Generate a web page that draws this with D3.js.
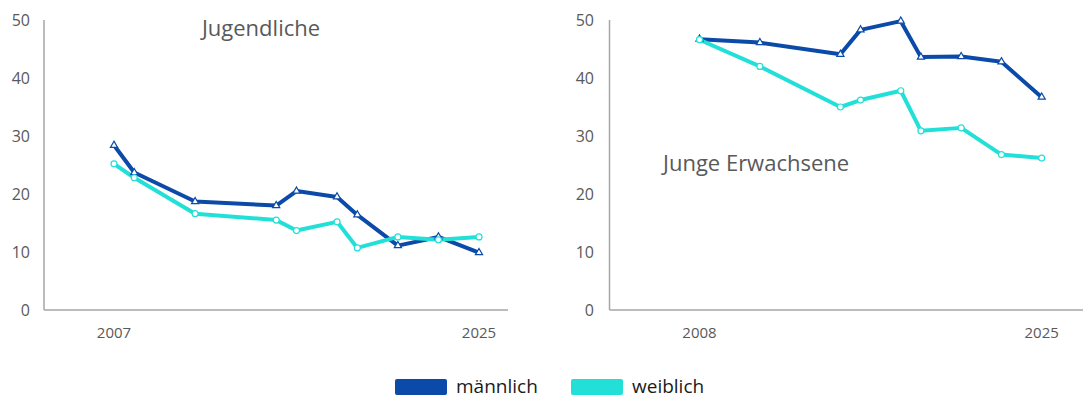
<!DOCTYPE html>
<html>
<head>
<meta charset="utf-8">
<script src="https://cdn.jsdelivr.net/npm/d3@7/dist/d3.min.js"></script>
<style>
  body { margin: 0; background: #fff; }
  svg text { font-family: "Open Sans", "Noto Sans", sans-serif; }
</style>
</head>
<body>
<div id="chart"></div>
<script>
"use strict"

// Jugendliche (left panel)
let yearsYouth = [2007, 2008, 2011, 2015, 2016, 2018, 2019, 2021, 2023, 2025];
let maleYouth = [28.4, 23.7, 18.7, 18.0, 20.5, 19.5, 16.4, 11.1, 12.6, 9.9];
let femaleYouth = [25.2, 22.8, 16.6, 15.5, 13.7, 15.2, 10.7, 12.6, 12.1, 12.6];

// Junge Erwachsene (right panel)
let yearsAdult = [2008, 2011, 2015, 2016, 2018, 2019, 2021, 2023, 2025];
let maleAdult = [46.7, 46.1, 44.1, 48.3, 49.8, 43.6, 43.7, 42.8, 36.7];
let femaleAdult = [46.6, 42.0, 35.0, 36.2, 37.8, 30.9, 31.4, 26.8, 26.2];

let yTicks = [0, 10, 20, 30, 40, 50];
let seriesNames = ["männlich", "weiblich"];
let colors = ["#0b4aa8", "#22e0d8"];

let width = 1083, height = 400;

let svg = d3.select("#chart")
    .append("svg")
    .attr("width", width)
    .attr("height", height);

let y = d3.scaleLinear().domain([0, 50]).range([310, 20]);

function panel(opts) {
    let g = svg.append("g");
    let x = d3.scaleLinear()
        .domain([opts.years[0], opts.years[opts.years.length - 1]])
        .range(opts.xRange);

    // axis lines
    g.append("line")
        .attr("x1", opts.axisX).attr("x2", opts.axisX)
        .attr("y1", y(50)).attr("y2", y(0))
        .attr("stroke", "#a6a6a6").attr("stroke-width", 1.5);
    g.append("line")
        .attr("x1", opts.axisX).attr("x2", opts.axisEnd)
        .attr("y1", y(0)).attr("y2", y(0))
        .attr("stroke", "#a6a6a6").attr("stroke-width", 1.5);

    // y tick labels
    g.selectAll(".ylab")
        .data(yTicks)
        .enter()
        .append("text")
        .attr("x", opts.labelX)
        .attr("y", d => y(d))
        .attr("dy", "0.35em")
        .attr("text-anchor", "end")
        .attr("fill", "#595959")
        .style("font-size", "16px")
        .text(d => d);

    // x tick labels: first and last year only
    let xLabels = [opts.years[0], opts.years[opts.years.length - 1]];
    g.selectAll(".xlab")
        .data(xLabels)
        .enter()
        .append("text")
        .attr("x", d => x(d))
        .attr("y", 338)
        .attr("text-anchor", "middle")
        .attr("fill", "#595959")
        .style("font-size", "15px")
        .text(d => d);

    // title
    g.append("text")
        .attr("x", opts.titleX)
        .attr("y", opts.titleY)
        .attr("text-anchor", opts.titleAnchor)
        .attr("fill", "#595959")
        .style("font-size", "22px")
        .text(opts.title);

    let line = d3.line()
        .x((d, i) => x(opts.years[i]))
        .y(d => y(d));

    let data = [opts.male, opts.female];
    data.forEach(function (values, s) {
        g.append("path")
            .attr("d", line(values))
            .attr("fill", "none")
            .attr("stroke", colors[s])
            .attr("stroke-width", 4)
            .attr("stroke-linejoin", "round");
    });

    // markers: triangles for male, circles for female
    let tri = d3.symbol().type(d3.symbolTriangle).size(22);
    g.selectAll(".tri")
        .data(opts.male)
        .enter()
        .append("path")
        .attr("d", tri)
        .attr("transform", (d, i) => "translate(" + x(opts.years[i]) + "," + y(d) + ")")
        .attr("fill", "white")
        .attr("stroke", colors[0])
        .attr("stroke-width", 1.2);
    g.selectAll(".circ")
        .data(opts.female)
        .enter()
        .append("circle")
        .attr("cx", (d, i) => x(opts.years[i]))
        .attr("cy", d => y(d))
        .attr("r", 3)
        .attr("fill", "white")
        .attr("stroke", colors[1])
        .attr("stroke-width", 1.2);
}

panel({
    years: yearsYouth, male: maleYouth, female: femaleYouth,
    xRange: [114, 479], axisX: 44, axisEnd: 508, labelX: 30,
    title: "Jugendliche", titleX: 261, titleY: 36, titleAnchor: "middle"
});

panel({
    years: yearsAdult, male: maleAdult, female: femaleAdult,
    xRange: [699.5, 1041.7], axisX: 609.5, axisEnd: 1083, labelX: 594,
    title: "Junge Erwachsene", titleX: 663, titleY: 171, titleAnchor: "start"
});

// legend
let legendX = [395, 571];
let legend = svg.selectAll(".legend")
    .data(seriesNames)
    .enter()
    .append("g")
    .attr("transform", (d, i) => "translate(" + legendX[i] + ",379)");
legend.append("rect")
    .attr("width", 52)
    .attr("height", 16)
    .attr("rx", 2)
    .attr("fill", (d, i) => colors[i]);
legend.append("text")
    .attr("x", 61)
    .attr("y", 14)
    .attr("fill", "#1a1a1a")
    .style("font-size", "19px")
    .text(d => d);
</script>
</body>
</html>
